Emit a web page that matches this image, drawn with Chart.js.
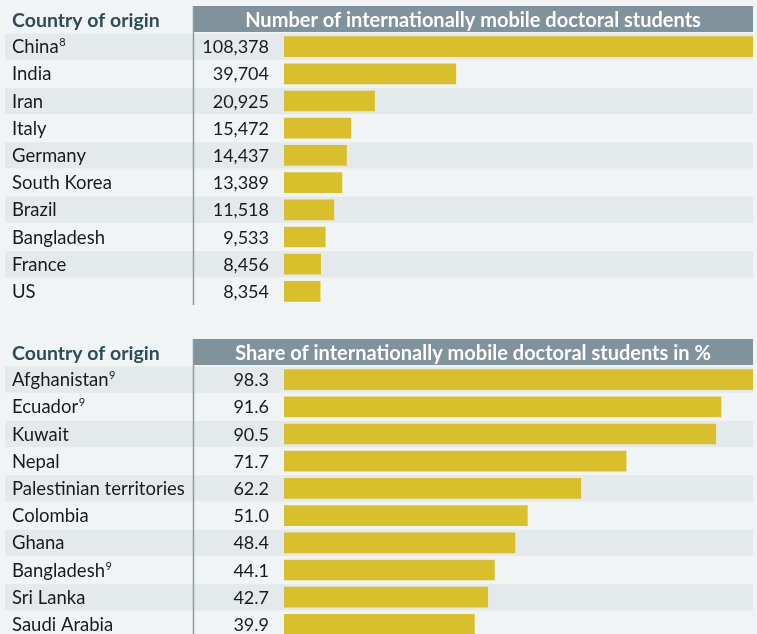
<!DOCTYPE html>
<html lang="en">
<head>
    <meta charset="UTF-8">
    <title>Internationally mobile doctoral students</title>
    <script src="https://cdn.jsdelivr.net/npm/chart.js"></script>
    <style>
        body {
            margin: 0;
            width: 757px;
            height: 634px;
            overflow: hidden;
            position: relative;
            background-color: #f0f4f5;
        }

        .table-chart {
            position: absolute;
            left: 0;
            width: 757px;
            height: 333px;
        }
    </style>
</head>
<body>
    <div class="table-chart" style="top: 0;"><canvas id="countChart"></canvas></div>
    <div class="table-chart" style="top: 333px;"><canvas id="shareChart"></canvas></div>

    <script>
        // Top table: absolute numbers
        var countCountries = ['China', 'India', 'Iran', 'Italy', 'Germany', 'South Korea', 'Brazil', 'Bangladesh', 'France', 'US'];
        var countNotes = ['8', '', '', '', '', '', '', '', '', ''];
        var countValues = [108378, 39704, 20925, 15472, 14437, 13389, 11518, 9533, 8456, 8354];

        // Bottom table: share in %
        var shareCountries = ['Afghanistan', 'Ecuador', 'Kuwait', 'Nepal', 'Palestinian territories', 'Colombia', 'Ghana', 'Bangladesh', 'Sri Lanka', 'Saudi Arabia'];
        var shareNotes = ['9', '9', '', '', '', '', '', '9', '', ''];
        var shareValues = [98.3, 91.6, 90.5, 71.7, 62.2, 51.0, 48.4, 44.1, 42.7, 39.9];

        var FONT = 'Lato, sans-serif';

        // draws the table look around the bars: stripes, header, labels, values
        function tablePlugin(title, notes, format) {
            return {
                id: 'tableLayout',
                beforeDraw: function (chart) {
                    var ctx = chart.ctx;
                    var y = chart.scales.y;
                    var area = chart.chartArea;
                    var rowH = y.getPixelForValue(1) - y.getPixelForValue(0);
                    ctx.save();
                    ctx.fillStyle = '#e4e9ec';
                    chart.data.labels.forEach(function (label, i) {
                        if (i % 2 === 0) {
                            var c = y.getPixelForValue(i);
                            ctx.fillRect(5, c - rowH / 2 + 0.5, area.right - 5, rowH - 1);
                        }
                    });

                    // header
                    ctx.fillStyle = '#80929c';
                    ctx.fillRect(193, 6, area.right - 193, area.top - 7);
                    ctx.fillStyle = '#ffffff';
                    ctx.font = 'bold 20px ' + FONT;
                    ctx.textAlign = 'center';
                    ctx.textBaseline = 'alphabetic';
                    ctx.fillText(title, (193 + area.right) / 2, 27);

                    ctx.fillStyle = '#2f4b56';
                    ctx.font = 'bold 19.5px ' + FONT;
                    ctx.textAlign = 'left';
                    ctx.fillText('Country of origin', 12, 27);

                    // column separator
                    ctx.strokeStyle = '#8c9ba4';
                    ctx.lineWidth = 1.5;
                    ctx.beginPath();
                    ctx.moveTo(193.5, 6);
                    ctx.lineTo(193.5, area.bottom);
                    ctx.stroke();
                    ctx.restore();
                },
                afterDraw: function (chart) {
                    var ctx = chart.ctx;
                    var y = chart.scales.y;
                    var values = chart.data.datasets[0].data;
                    ctx.save();
                    ctx.fillStyle = '#1a1a1a';
                    ctx.textBaseline = 'alphabetic';
                    chart.data.labels.forEach(function (label, i) {
                        var base = y.getPixelForValue(i) + 6.5;
                        ctx.font = '18.5px ' + FONT;
                        ctx.textAlign = 'left';
                        ctx.fillText(label, 12, base);
                        if (notes[i]) {
                            var w = ctx.measureText(label).width;
                            ctx.font = '11px ' + FONT;
                            ctx.fillText(notes[i], 12 + w + 0.5, base - 7);
                        }
                        ctx.font = '18px ' + FONT;
                        ctx.textAlign = 'right';
                        ctx.fillText(format(values[i]), 269, base);
                    });
                    ctx.restore();
                }
            };
        }

        function makeChart(id, labels, values, notes, title, format) {
            return new Chart(document.getElementById(id), {
                type: 'bar',
                data: {
                    labels: labels,
                    datasets: [{
                        data: values,
                        backgroundColor: '#d9bf2c',
                        borderWidth: 0,
                        barThickness: 20
                    }]
                },
                options: {
                    indexAxis: 'y',
                    responsive: true,
                    maintainAspectRatio: false,
                    animation: false,
                    layout: {
                        padding: { left: 12, top: 33, bottom: 28, right: 4 }
                    },
                    plugins: {
                        legend: { display: false },
                        tooltip: { enabled: false }
                    },
                    scales: {
                        // longest bar fills the column
                        x: { display: false, min: 0, max: Math.max.apply(null, values) },
                        y: {
                            grid: { display: false },
                            border: { display: false },
                            ticks: { display: false },
                            afterFit: function (scale) { scale.width = 272; }
                        }
                    }
                },
                plugins: [tablePlugin(title, notes, format)]
            });
        }

        makeChart('countChart', countCountries, countValues, countNotes,
            'Number of internationally mobile doctoral students',
            function (v) { return v.toLocaleString('en-US'); });

        makeChart('shareChart', shareCountries, shareValues, shareNotes,
            'Share of internationally mobile doctoral students in %',
            function (v) { return v.toFixed(1); });
    </script>
</body>
</html>
